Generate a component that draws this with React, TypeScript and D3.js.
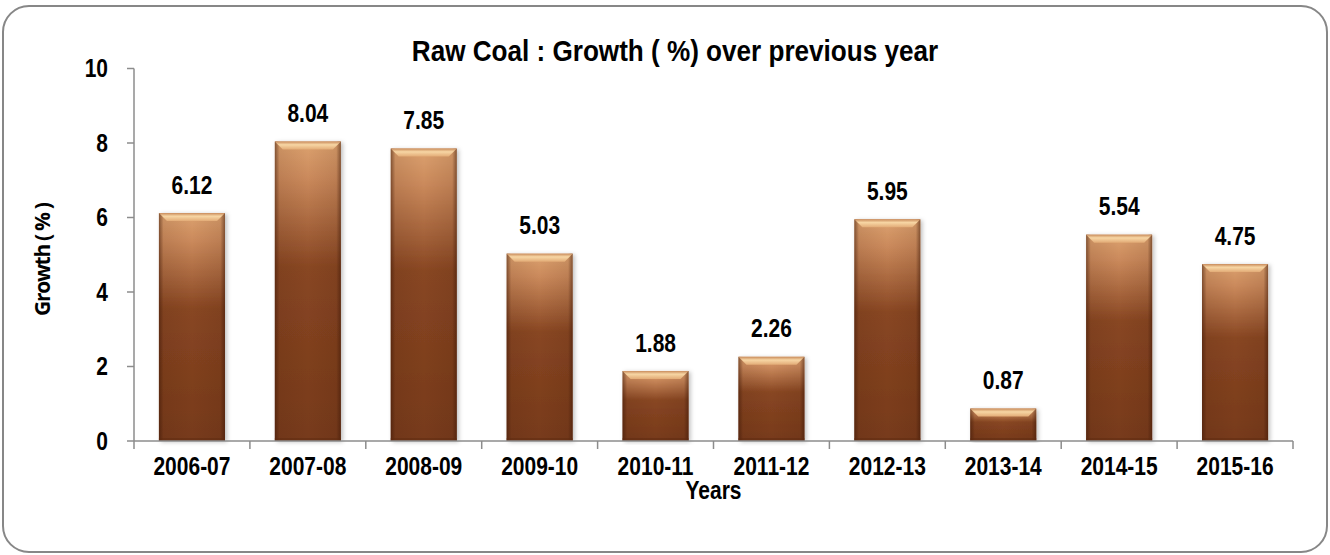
import React from 'react'
import * as d3 from 'd3'

// data
const years = ['2006-07', '2007-08', '2008-09', '2009-10', '2010-11', '2011-12', '2012-13', '2013-14', '2014-15', '2015-16']
const growth = [6.12, 8.04, 7.85, 5.03, 1.88, 2.26, 5.95, 0.87, 5.54, 4.75]
const yTicks = [0, 2, 4, 6, 8, 10]

const W = 1330
const H = 555
const margin = { top: 68.5, right: 37, bottom: 114, left: 134 }
const font = '"Liberation Sans", Arial, sans-serif'

// no narrow font installed, so squeeze Liberation Sans Bold horizontally
function NarrowText({ x, y, size = 25, sx = 0.84, anchor = 'middle', children }: {
  x: number, y: number, size?: number, sx?: number, anchor?: string, children: React.ReactNode
}) {
  return (
    <text transform={`translate(${x},${y}) scale(${sx},1)`} textAnchor={anchor}
      dominantBaseline="central" fontFamily={font} fontWeight="bold" fontSize={size} fill="#000">
      {children}
    </text>
  )
}

export default function App() {
  const x = d3.scaleBand<string>()
    .domain(years)
    .range([margin.left, W - margin.right])
    .paddingInner(0.43)
    .paddingOuter(0.215)

  const y = d3.scaleLinear()
    .domain([0, 10])
    .range([H - margin.bottom, margin.top])

  const step = x.step()
  const x0 = margin.left
  const x1 = W - margin.right
  const y0 = y(0)
  const bw = x.bandwidth()
  const bevel = 8

  return (
    <div style={{ position: 'fixed', left: 0, top: 0 }}>
      <svg width={W} height={H} style={{ display: 'block', background: '#fff' }}>
        <defs>
          <linearGradient id="barV" x1="0" y1="0" x2="0" y2="1">
            <stop offset="0%" stopColor="#dca26f" />
            <stop offset="12%" stopColor="#cb8a5c" />
            <stop offset="42%" stopColor="#884622" />
            <stop offset="100%" stopColor="#773a1b" />
          </linearGradient>
          <linearGradient id="barH" x1="0" y1="0" x2="1" y2="0">
            <stop offset="0%" stopColor="#3a1505" stopOpacity="0.55" />
            <stop offset="7%" stopColor="#3a1505" stopOpacity="0.1" />
            <stop offset="50%" stopColor="#3a1505" stopOpacity="0" />
            <stop offset="93%" stopColor="#3a1505" stopOpacity="0.1" />
            <stop offset="100%" stopColor="#3a1505" stopOpacity="0.55" />
          </linearGradient>
          <linearGradient id="bevelTop" x1="0" y1="0" x2="0" y2="1">
            <stop offset="0%" stopColor="#c98c5c" />
            <stop offset="40%" stopColor="#f7d6a4" />
            <stop offset="100%" stopColor="#e2ab76" />
          </linearGradient>
          <filter id="shadow" x="-20%" y="-5%" width="140%" height="110%">
            <feDropShadow dx="2" dy="1" stdDeviation="2" floodColor="#000" floodOpacity="0.25" />
          </filter>
        </defs>

        {/* outer rounded frame */}
        <rect x={3} y={6} width={W - 6} height={H - 9} rx={26} ry={26}
          fill="none" stroke="#878787" strokeWidth={2} />

        {/* title */}
        <NarrowText x={675} y={51} size={30} sx={0.87}>Raw Coal : Growth ( %) over previous year</NarrowText>

        {/* bars */}
        {years.map((yr, i) => {
          const bx = x(yr)!
          const by = y(growth[i])
          const bh = y0 - by
          return (
            <g key={yr}>
              <rect x={bx} y={by} width={bw} height={bh} fill="url(#barV)" filter="url(#shadow)" />
              <rect x={bx} y={by} width={bw} height={bh} fill="url(#barH)" />
              <polygon
                points={`${bx},${by} ${bx + bw},${by} ${bx + bw - bevel},${by + bevel} ${bx + bevel},${by + bevel}`}
                fill="url(#bevelTop)" />
              <rect x={bx} y={y0 - 3} width={bw} height={3} fill="#5e2a10" opacity={0.5} />
              <NarrowText x={bx + bw / 2} y={by - 28}>{growth[i].toFixed(2)}</NarrowText>
            </g>
          )
        })}

        {/* y axis */}
        <line x1={x0} x2={x0} y1={y(10)} y2={y0} stroke="#8c8c8c" strokeWidth={1.5} />
        {yTicks.map(t => (
          <g key={t}>
            <line x1={x0 - 7} x2={x0} y1={y(t)} y2={y(t)} stroke="#8c8c8c" strokeWidth={1.5} />
            <NarrowText x={x0 - 26} y={y(t)} anchor="end">{t}</NarrowText>
          </g>
        ))}

        {/* x axis */}
        <line x1={x0} x2={x1} y1={y0} y2={y0} stroke="#8c8c8c" strokeWidth={1.5} />
        {d3.range(years.length + 1).map(i => (
          <line key={i} x1={x0 + i * step} x2={x0 + i * step} y1={y0} y2={y0 + 8}
            stroke="#8c8c8c" strokeWidth={1.5} />
        ))}
        {years.map(yr => (
          <NarrowText key={yr} x={x(yr)! + bw / 2} y={466}>{yr}</NarrowText>
        ))}

        {/* axis titles */}
        <NarrowText x={x0 + (x1 - x0) / 2} y={490}>Years</NarrowText>
        <text transform={`translate(42,259) rotate(-90)`} textAnchor="middle" dominantBaseline="central"
          fontFamily='"Open Sans", "Noto Sans", sans-serif' fontWeight="bold" fontSize={21}
          textLength={114} lengthAdjust="spacing" fill="#000">
          Growth ( % )
        </text>
      </svg>
    </div>
  )
}
